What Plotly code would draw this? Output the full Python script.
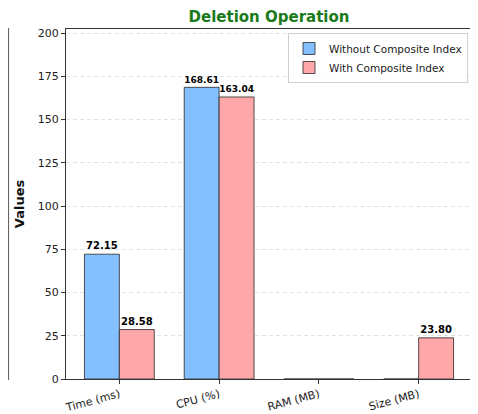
import plotly.graph_objects as go

categories = ["Time (ms)", "CPU (%)", "RAM (MB)", "Size (MB)"]
without_idx = [72.15, 168.61, 0, 0]
with_idx = [28.58, 163.04, 0, 23.80]
series_names = ["Without Composite Index", "With Composite Index"]
y_ticks = [0, 25, 50, 75, 100, 125, 150, 175, 200]

blue = "#84C0FF"
pink = "#FFA8AA"

def labels(vals):
    return [f"<b>{v:.2f}</b>" if v > 0 else "" for v in vals]

fig = go.Figure()
for name, vals, col in [(series_names[0], without_idx, blue), (series_names[1], with_idx, pink)]:
    fig.add_trace(go.Bar(
        x=list(range(len(categories))), y=vals, name=name,
        marker=dict(color=col, line=dict(color="rgba(40,40,40,0.8)", width=1)),
        text=labels(vals), textposition="outside",
        textfont=dict(size=10, color="black", family="DejaVu Sans"),
        cliponaxis=False,
    ))

# page has an 8px body margin: figure origin sits at page (8, 8)
O = 8
W, H = 478 - O, 414 - O
# plot area in page pixels
P_L, P_R, P_T, P_B = 66, 472, 29, 379
L = P_L - O
R = W - (P_R - O)
T = P_T - O
B = H - (P_B - O)
pw = P_R - P_L
ph = P_B - P_T

def px(x):
    return (x - P_L) / pw

def py(y):
    return (P_B - y) / ph

fig.update_layout(
    width=W, height=H,
    margin=dict(l=L, r=R, t=T, b=B, autoexpand=False),
    paper_bgcolor="white", plot_bgcolor="white",
    barmode="group", bargap=0.3, bargroupgap=0,
    font=dict(family="DejaVu Sans", size=10, color="#222"),
    title=dict(text="<b>Deletion Operation</b>", x=px(269), xref="paper", xanchor="center",
               y=1 - (17 - O) / H, yanchor="middle",
               font=dict(size=15, color="#1a7a1a", family="DejaVu Sans")),
    showlegend=True,
    legend=dict(x=px(468), y=py(33), xanchor="right", yanchor="top",
                bgcolor="rgba(255,255,255,0.8)", bordercolor="#d0d0d0", borderwidth=1,
                font=dict(size=10.5, color="#222"), tracegroupgap=0),
)
fig.update_xaxes(
    range=[-0.535, 3.535], tickmode="array", tickvals=list(range(len(categories))),
    ticktext=categories, tickangle=-15, ticks="outside", ticklen=4, tickcolor="#333",
    showline=True, linecolor="#333", linewidth=1, mirror=True, showgrid=False,
    tickfont=dict(size=11, color="#222"), zeroline=False, automargin=False,
)
fig.update_yaxes(
    range=[0, 202.33], tickmode="array", tickvals=y_ticks,
    ticks="outside", ticklen=4, tickcolor="#333",
    showline=True, linecolor="#333", linewidth=1, mirror=True,
    showgrid=True, gridcolor="rgba(190,190,190,0.45)", griddash="4px,3px", gridwidth=1,
    tickfont=dict(size=11, color="#222"), zeroline=False, automargin=False,
    title=dict(text="<b>Values</b>", font=dict(size=13, color="#111"), standoff=10),
)

# fragment of the neighbouring subplot frame at the left edge
fig.add_shape(type="line", xref="paper", yref="paper", x0=px(8.5), x1=px(8.5), y0=py(28), y1=py(380),
              line=dict(color="#666", width=1.2))

fig.write_html("out.html")
